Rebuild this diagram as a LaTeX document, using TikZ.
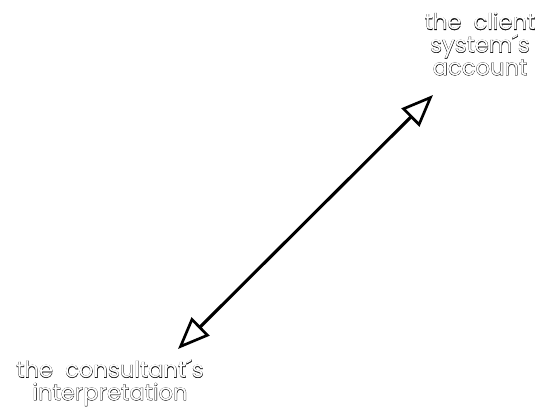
\documentclass[tikz,border=0pt]{standalone}
\usepackage{fontspec}
\setmainfont{Poppins}
\newfontfamily\outlinefont[FakeBold=2.2]{Poppins}
\usetikzlibrary{arrows.meta}

\tikzset{every picture/.style={line width=0.75pt}}
\tikzset{
  label rim/.style={align=center, font=\outlinefont\fontsize{17}{17}\selectfont, inner sep=0pt, text=black},
  label core/.style={align=center, font=\fontsize{17}{17}\selectfont, inner sep=0pt, text=white},
  relation/.style={line width=2.3pt, {Triangle[open,length=24pt,width=19pt,line width=2pt]}-{Triangle[open,length=24pt,width=19pt,line width=2pt]}},
}

\begin{document}
\begin{tikzpicture}[x=0.75pt,y=0.75pt,yscale=-1,xscale=1]
	\useasboundingbox (0,0) rectangle (544,409);

	% Text Node
	\node[label rim] (account) at (480,44) {the\ \ client\\system´s\\account};
	\node[label core] (account core) at (account) {the\ \ client\\system´s\\account};
	% Text Node
	\node[label rim] (interp) at (110,383) {the\ \ consultant´s\\interpretation};
	\node[label core] (interp core) at (interp) {the\ \ consultant´s\\interpretation};

	% Arrow ends
	\coordinate (top end) at (433,95);
	\coordinate (bottom end) at (178,349);

	%Straight Lines
	\draw [relation] (bottom end) -- (top end) ;

\end{tikzpicture}
\end{document}
